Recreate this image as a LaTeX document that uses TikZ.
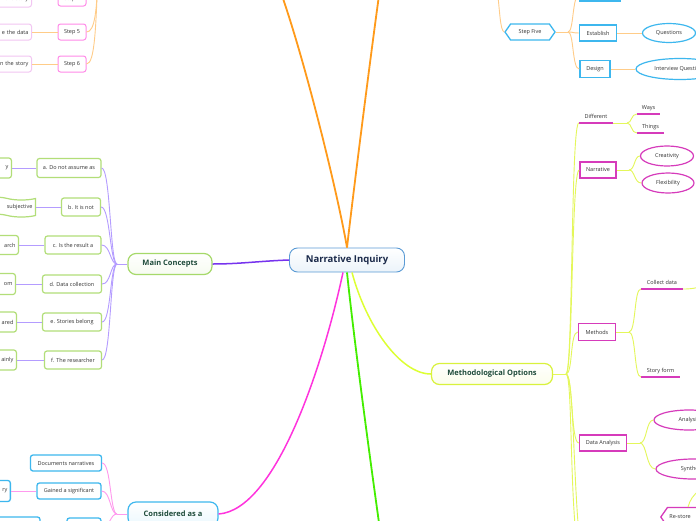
\documentclass[tikz,border=0pt]{standalone}
\usepackage{fontspec}
\setmainfont{Open Sans}
\usetikzlibrary{shapes.geometric,shapes.symbols,calc}
\definecolor{txt}{HTML}{333333}
\definecolor{navy}{HTML}{1B2A4A}
\definecolor{dgreen}{HTML}{1E4B3A}
\definecolor{cblue}{HTML}{5B9BD5}
\definecolor{omain}{HTML}{FF9A1A}
\definecolor{olight}{HTML}{FFCC88}
\definecolor{pmain}{HTML}{7733EE}
\definecolor{plight}{HTML}{B49CFF}
\definecolor{mmain}{HTML}{FF33DD}
\definecolor{mlight}{HTML}{FF99EE}
\definecolor{gmain}{HTML}{44EE00}
\definecolor{lmain}{HTML}{DDFF33}
\definecolor{llight}{HTML}{E4F75A}
\definecolor{mcb}{HTML}{A6D96A}
\definecolor{mob}{HTML}{D9F23C}
\definecolor{cyanb}{HTML}{3DB7EE}
\definecolor{pinkb}{HTML}{FF8AE8}
\definecolor{lpinkb}{HTML}{F2C6F2}
\definecolor{magb}{HTML}{D63BBB}
\definecolor{leafg}{HTML}{B2DE78}
\tikzset{
  small/.style={font=\fontsize{5.5}{6.5}\selectfont, text=txt},
  central/.style={draw=cblue, line width=0.9pt, rounded corners=8pt, top color=white, bottom color=cblue!12,
    minimum width=115, minimum height=24, font=\bfseries\fontsize{9.5}{11}\selectfont, text=navy},
  mainnode/.style={rounded corners=8pt, line width=1.2pt, top color=white, bottom color=#1!10, draw=#1,
    minimum height=21, font=\bfseries\fontsize{7.5}{9}\selectfont, text=dgreen},
  gbox/.style={small, draw=leafg, line width=1.2pt, rounded corners=2.5pt, fill=white, minimum height=18, inner sep=2pt},
  gleft/.style={gbox, anchor=east, align=right, text width=40, inner sep=3pt},
  pbox/.style={small, draw=pinkb, line width=1pt, rounded corners=2.5pt, fill=white, inner sep=2pt},
  lpbox/.style={small, draw=lpinkb, line width=1pt, rounded corners=2.5pt, fill=white, anchor=east, align=right, text width=54, inner sep=3pt, minimum height=16},
  cbox/.style={small, draw=cyanb, line width=1.3pt, rounded corners=2.5pt, fill=white, minimum height=16, inner sep=2pt},
  csq/.style={small, draw=cyanb, line width=1.5pt, fill=white, minimum height=16, inner sep=2pt},
  cell/.style={small, draw=cyanb, line width=1.2pt, ellipse, fill=white, inner sep=1pt},
  msq/.style={small, draw=magb, line width=1.5pt, fill=white, inner sep=2pt},
  mell/.style={small, draw=magb, line width=1.2pt, ellipse, fill=white, inner sep=1pt, minimum height=20},
  ultext/.style={small, inner sep=0pt, minimum height=12, anchor=south},
  ulline/.style={draw=magb, line width=1.3pt},
  hexs/.style={small, signal, signal to=east and west, signal pointer angle=110, line width=1.3pt, fill=white, inner sep=2pt},
  omainl/.style={draw=omain, line width=1.8pt},
  olightl/.style={draw=olight, line width=0.9pt},
  pmainl/.style={draw=pmain, line width=1.5pt},
  plightl/.style={draw=plight, line width=0.9pt},
  mmainl/.style={draw=mmain, line width=1.5pt},
  mlightl/.style={draw=mlight, line width=0.9pt},
  gmainl/.style={draw=gmain, line width=1.8pt},
  lmainl/.style={draw=lmain, line width=1.5pt},
  llightl/.style={draw=llight, line width=0.9pt},
}
\begin{document}
\begin{tikzpicture}[x=1pt,y=-1pt]
\useasboundingbox (0,0) rectangle (696,520);
\clip (0,0) rectangle (696,520);
\fill[white] (0,0) rectangle (696,520);

% ---------- central
\node[central] (ni) at (347,260) {Narrative Inquiry};
\coordinate (ohubL) at (280,-10);
\coordinate (ohubR) at (380,-12);
\coordinate (gend) at (380,530);

% ---------- main nodes
\node[mainnode=mcb, minimum width=84] (mc) at (170,264) {Main Concepts};
\node[mainnode=mob, minimum width=121] (mo) at (492,374) {Methodological Options};
\node[mainnode=cyanb, minimum width=90, minimum height=24] (cons) at (173,514) {Considered as a};

% ---------- main branches
\draw[omainl] (ni.north) .. controls (338,195) and (305,60) .. (ohubL);
\draw[omainl] (ni.north) .. controls (353,195) and (370,60) .. (ohubR);
\draw[pmainl] (ni.west) .. controls (260,261) and (240,264) .. (mc.east);
\draw[mmainl] ([xshift=-4pt]ni.south) .. controls (322,370) and (275,510) .. (cons.east);
\draw[gmainl] (ni.south) .. controls (353,330) and (366,430) .. (gend);
\draw[lmainl] ([xshift=5pt]ni.south) .. controls (366,325) and (400,374) .. (mo.west);

% ---------- Steps (top left)
\node[pbox, minimum width=28, minimum height=14] (st4) at (72,-1) {Step 4};
\node[pbox, minimum width=28, minimum height=16] (st5) at (72,32) {Step 5};
\node[pbox, minimum width=28, minimum height=16] (st6) at (72,64) {Step 6};
\node[lpbox] (st4c) at (32,-1) {the story};
\node[lpbox] (st5c) at (32,32) {e the data};
\node[lpbox] (st6c) at (32,64) {n the story};
\coordinate (shub) at (98,-30);
\draw[olightl] (st4c.east) -- (st4.west);
\draw[olightl] (st5c.east) -- (st5.west);
\draw[olightl] (st6c.east) -- (st6.west);
\draw[olightl] (st4.east) .. controls (94,-1) and (97,-8) .. (shub);
\draw[olightl] (st5.east) .. controls (95,32) and (97,10) .. (shub);
\draw[olightl] (st6.east) .. controls (95,64) and (96,25) .. (shub);

% ---------- Step Five (top right)
\node[hexs, draw=cyanb, minimum width=50, minimum height=16] (s5) at (530,32) {Step Five};
\coordinate (s5p) at (497,-12);
\coordinate (s5hub) at (568,32);
\node[csq, minimum width=40, minimum height=12] (s5top) at (600,-5) {};
\node[csq, minimum width=37] (est) at (598,33) {Establish};
\node[csq, minimum width=30, minimum height=17] (des) at (595,69) {Design};
\node[cell, minimum width=53, minimum height=19] (que) at (669,33) {Questions};
\node[cell, minimum width=88, minimum height=21] (intq) at (680,69) {Interview Questions};
\draw[olightl] (s5p) .. controls (500,12) and (500,30) .. (s5.west);
\draw[olightl] (s5.east) -- (s5hub);
\draw[olightl] (s5hub) .. controls (574,32) and (572,-5) .. (s5top.west);
\draw[olightl] (s5hub) .. controls (574,32) and (572,33) .. (est.west);
\draw[olightl] (s5hub) .. controls (574,32) and (572,69) .. (des.west);
\draw[olightl] (est.east) -- (que.west);
\draw[olightl] (des.east) -- (intq.west);

% ---------- Main Concepts children
\coordinate (mch) at (117,264);
\node[gbox, minimum width=64, minimum height=19] (ca) at (69,168) {a. Do not assume as};
\node[gbox, minimum width=39] (cb) at (81,207) {b. It is not};
\node[gbox, minimum width=56] (cc) at (73,245) {c. Is the result a};
\node[gbox, minimum width=59] (cd) at (72,284) {d. Data collection};
\node[gbox, minimum width=59] (ce) at (72,322) {e. Stories belong};
\node[gbox, minimum width=57] (cf) at (73,360) {f. The researcher};
\draw[plightl] (mc.west) -- (mch);
\foreach \c in {ca,cb,cc,cd,ce,cf}{
  \draw[plightl] (mch) .. controls ([xshift=-7pt]mch) and ([xshift=9pt]\c.east) .. (\c.east);
}
\node[gleft, minimum height=20] (ay) at (12,168) {y};
\node[small, draw=leafg, line width=1.2pt, fill=white, tape, tape bend top=out and in, tape bend bottom=out and in,
  tape bend height=3pt, anchor=east, align=right, text width=50, inner sep=3pt, minimum height=20] (bs) at (36,207) {subjective};
\node[gleft, minimum height=19] (cr) at (19,245) {arch};
\node[gleft, minimum height=21] (dom) at (16,284) {om};
\node[gleft, minimum height=20] (ear) at (17,322) {ared};
\node[gleft, minimum height=20] (fai) at (17,360) {ainly};
\draw[plightl] (ca.west) -- (ay.east);
\draw[plightl] (cb.west) -- (bs.east);
\draw[plightl] (cc.west) -- (cr.east);
\draw[plightl] (cd.west) -- (dom.east);
\draw[plightl] (ce.west) -- (ear.east);
\draw[plightl] (cf.west) -- (fai.east);

% ---------- Considered as a children
\coordinate (csh) at (117,514);
\node[cbox, minimum width=71] (cdoc) at (66,463) {Documents narratives};
\node[cbox, minimum width=64] (cgain) at (69,491) {Gained a significant};
\node[cbox, minimum width=34, minimum height=18] (cthird) at (84,527) {};
\node[cbox, anchor=east, align=right, text width=30, minimum height=21, inner sep=3pt] (gry) at (11,491) {ry};
\node[cbox, minimum width=60, minimum height=22] (cwide) at (10,528) {};
\draw[mlightl] (cons.west) -- (csh);
\foreach \c in {cdoc,cgain,cthird}{
  \draw[mlightl] (csh) .. controls ([xshift=-7pt]csh) and ([xshift=9pt]\c.east) .. (\c.east);
}
\draw[mlightl] (cgain.west) -- (gry.east);

% ---------- Methodological Options children
\coordinate (moh) at (566,374);
\draw[llightl] (mo.east) -- (moh);
\node[ultext, minimum width=34] (diff) at (596,123) {Different};
\node[msq, minimum width=36, minimum height=16] (narr) at (598,170) {Narrative};
\node[msq, minimum width=37, minimum height=17] (meth) at (597,332) {Methods};
\node[msq, minimum width=47, minimum height=16] (dana) at (603,443) {Data Analysis};
\coordinate (mob1) at (576,535);
\coordinate (mob2) at (580,545);
\draw[ulline] (diff.south west) -- (diff.south east);
\draw[llightl] (moh) .. controls ([xshift=7pt]moh) and ([xshift=-8pt]diff.south west) .. (diff.south west);
\foreach \c in {narr,meth,dana}{
  \draw[llightl] (moh) .. controls ([xshift=7pt]moh) and ([xshift=-8pt]\c.west) .. (\c.west);
}
\draw[llightl] (moh) .. controls (572,374) and (570,480) .. (mob1);
\draw[llightl] (moh) .. controls (574,374) and (573,480) .. (mob2);

% Different children
\coordinate (dh) at (627,123);
\node[ultext, minimum width=23] (ways) at (648.5,114) {Ways};
\node[ultext, minimum width=27] (things) at (650.5,133) {Things};
\draw[ulline] (ways.south west) -- (ways.south east);
\draw[ulline] (things.south west) -- (things.south east);
\draw[llightl] (diff.south east) -- (dh);
\draw[llightl] (dh) .. controls (632,123) and (631,114) .. (ways.south west);
\draw[llightl] (dh) .. controls (632,123) and (631,133) .. (things.south west);

% Narrative children
\coordinate (nh) at (629,170);
\node[mell, minimum width=53] (crea) at (667,156) {Creativity};
\node[mell, minimum width=52] (flex) at (668,183) {Flexibility};
\draw[llightl] (narr.east) -- (nh);
\draw[llightl] (nh) .. controls (635,170) and (634,156) .. (crea.west);
\draw[llightl] (nh) .. controls (635,170) and (634,183) .. (flex.west);

% Methods children
\coordinate (mh) at (629,332);
\node[ultext, minimum width=42] (coll) at (662,289) {Collect data};
\node[ultext, minimum width=39] (story) at (660.5,377) {Story form};
\coordinate (collx) at (700,287);
\draw[ulline] (coll.south west) -- (coll.south east);
\draw[ulline] (story.south west) -- (story.south east);
\draw[llightl] (meth.east) -- (mh);
\draw[llightl] (mh) .. controls (636,332) and (634,289) .. (coll.south west);
\draw[llightl] (mh) .. controls (636,332) and (634,377) .. (story.south west);
\draw[llightl] (coll.south east) .. controls (692,289) and (695,288) .. (collx);

% Data Analysis children
\coordinate (dah) at (640,443);
\node[mell, minimum width=70] (anal) at (689,420) {Analysis};
\node[mell, minimum width=74] (synt) at (693,469) {Synthesis};
\draw[llightl] (dana.east) -- (dah);
\draw[llightl] (dah) .. controls (647,443) and (646,420) .. (anal.west);
\draw[llightl] (dah) .. controls (647,443) and (646,469) .. (synt.west);

% Re-store
\node[hexs, draw=magb, anchor=west, text width=60, align=left, minimum height=19] (rest) at (660,517) {Re-store};
\coordinate (rsp) at (700,490);
\coordinate (rsa) at (688,507);
\draw[llightl] (rsp) .. controls (693,495) and (690,500) .. (rsa);
\end{tikzpicture}
\end{document}
